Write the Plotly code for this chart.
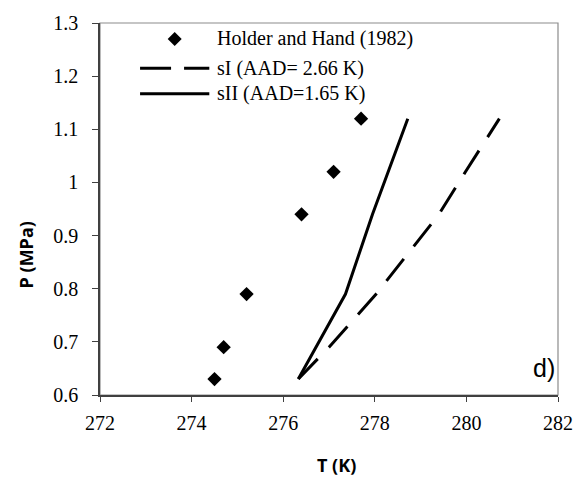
import plotly.graph_objects as go

# ---- data ----
exp_T = [274.5, 274.7, 275.2, 276.4, 277.1, 277.7]
exp_P = [0.63, 0.69, 0.79, 0.94, 1.02, 1.12]

model_P = [0.63, 0.69, 0.79, 0.94, 1.02, 1.12]
sI_T = [276.33, 277.0, 278.03, 279.4, 279.98, 280.72]
sII_T = [276.33, 276.72, 277.36, 277.95, 278.3, 278.72]

x_ticks = [272, 274, 276, 278, 280, 282]
y_ticks = [0.6, 0.7, 0.8, 0.9, 1.0, 1.1, 1.2, 1.3]
y_ticktext = ["0.6", "0.7", "0.8", "0.9", "1", "1.1", "1.2", "1.3"]

legend_names = ["Holder and Hand (1982)", "sI (AAD= 2.66 K)", "sII (AAD=1.65 K)"]

# ---- layout geometry (pixels) ----
W, H = 585, 481
L, R, T, B = 100, 563, 16, 395
pw, ph = R - L, B - T


def px(x):
    return (x - L) / pw


def py(y):
    return (B - y) / ph


SERIF = "Liberation Serif, Times New Roman, serif"
SANS = "Open Sans, Arial, sans-serif"

fig = go.Figure()
fig.add_trace(go.Scatter(x=sI_T, y=model_P, mode="lines", name=legend_names[1],
                         line=dict(color="black", width=3, dash="28px,16px"),
                         showlegend=False))
fig.add_trace(go.Scatter(x=sII_T, y=model_P, mode="lines", name=legend_names[2],
                         line=dict(color="black", width=3),
                         showlegend=False))
fig.add_trace(go.Scatter(x=exp_T, y=exp_P, mode="markers", name=legend_names[0],
                         marker=dict(symbol="diamond", size=11, color="black",
                                     line=dict(width=0)),
                         showlegend=False))

shapes = []
# plot border (gray)
shapes.append(dict(type="rect", xref="paper", yref="paper", x0=0, y0=0, x1=1, y1=1,
                   line=dict(color="#8c8c8c", width=1.2), layer="below"))
# legend: diamond
shapes.append(dict(type="path", xref="paper", yref="paper",
                   xsizemode="pixel", ysizemode="pixel",
                   xanchor=px(175.5), yanchor=py(32.3),
                   path="M0,7 L7,0 L0,-7 L-7,0 Z",
                   fillcolor="black", line=dict(width=0)))
# legend: dashed line
shapes.append(dict(type="line", xref="paper", yref="paper",
                   x0=px(140.5), x1=px(210.5), y0=py(62), y1=py(62),
                   line=dict(color="black", width=3, dash="31px,13px")))
# legend: solid line
shapes.append(dict(type="line", xref="paper", yref="paper",
                   x0=px(140.5), x1=px(210.5), y0=py(88), y1=py(88),
                   line=dict(color="black", width=3)))

annotations = []
for name, yc in zip(legend_names, [32, 62, 88]):
    annotations.append(dict(text=name, xref="paper", yref="paper", x=px(216), y=py(yc),
                            xanchor="left", yanchor="middle", showarrow=False,
                            font=dict(family=SERIF, size=20, color="black")))
annotations.append(dict(text="<b>T (K)</b>", xref="paper", yref="paper",
                        x=px(339), y=py(466), xanchor="center", yanchor="middle",
                        showarrow=False, font=dict(family=SANS, size=18, color="black")))
annotations.append(dict(text="<b>P (MPa)</b>", xref="paper", yref="paper",
                        x=px(25), y=py(252), xanchor="center", yanchor="middle",
                        textangle=-90, showarrow=False,
                        font=dict(family=SANS, size=18, color="black")))
annotations.append(dict(text="d)", xref="paper", yref="paper",
                        x=px(562), y=py(367), xanchor="right", yanchor="middle",
                        showarrow=False,
                        font=dict(family="Liberation Sans, Arial, sans-serif", size=25,
                                  color="black")))

fig.update_layout(
    width=W, height=H,
    margin=dict(l=L, r=W - R, t=T, b=H - B, pad=0),
    paper_bgcolor="white", plot_bgcolor="white",
    showlegend=False,
    shapes=shapes, annotations=annotations,
    xaxis=dict(range=[272, 282], tickvals=x_ticks, showgrid=False, zeroline=False,
               showline=True, linecolor="#404040", linewidth=1.5,
               ticks="outside", ticklen=5, tickwidth=1.2, tickcolor="#404040",
               ticklabelstandoff=4,
               tickfont=dict(family=SERIF, size=20, color="black")),
    yaxis=dict(range=[0.6, 1.3], tickvals=y_ticks, ticktext=y_ticktext,
               showgrid=False, zeroline=False,
               showline=True, linecolor="#404040", linewidth=1.5,
               ticks="outside", ticklen=6, tickwidth=1.2, tickcolor="#404040",
               ticklabelstandoff=10,
               tickfont=dict(family=SERIF, size=20, color="black")),
)

fig.write_html("out.html")
